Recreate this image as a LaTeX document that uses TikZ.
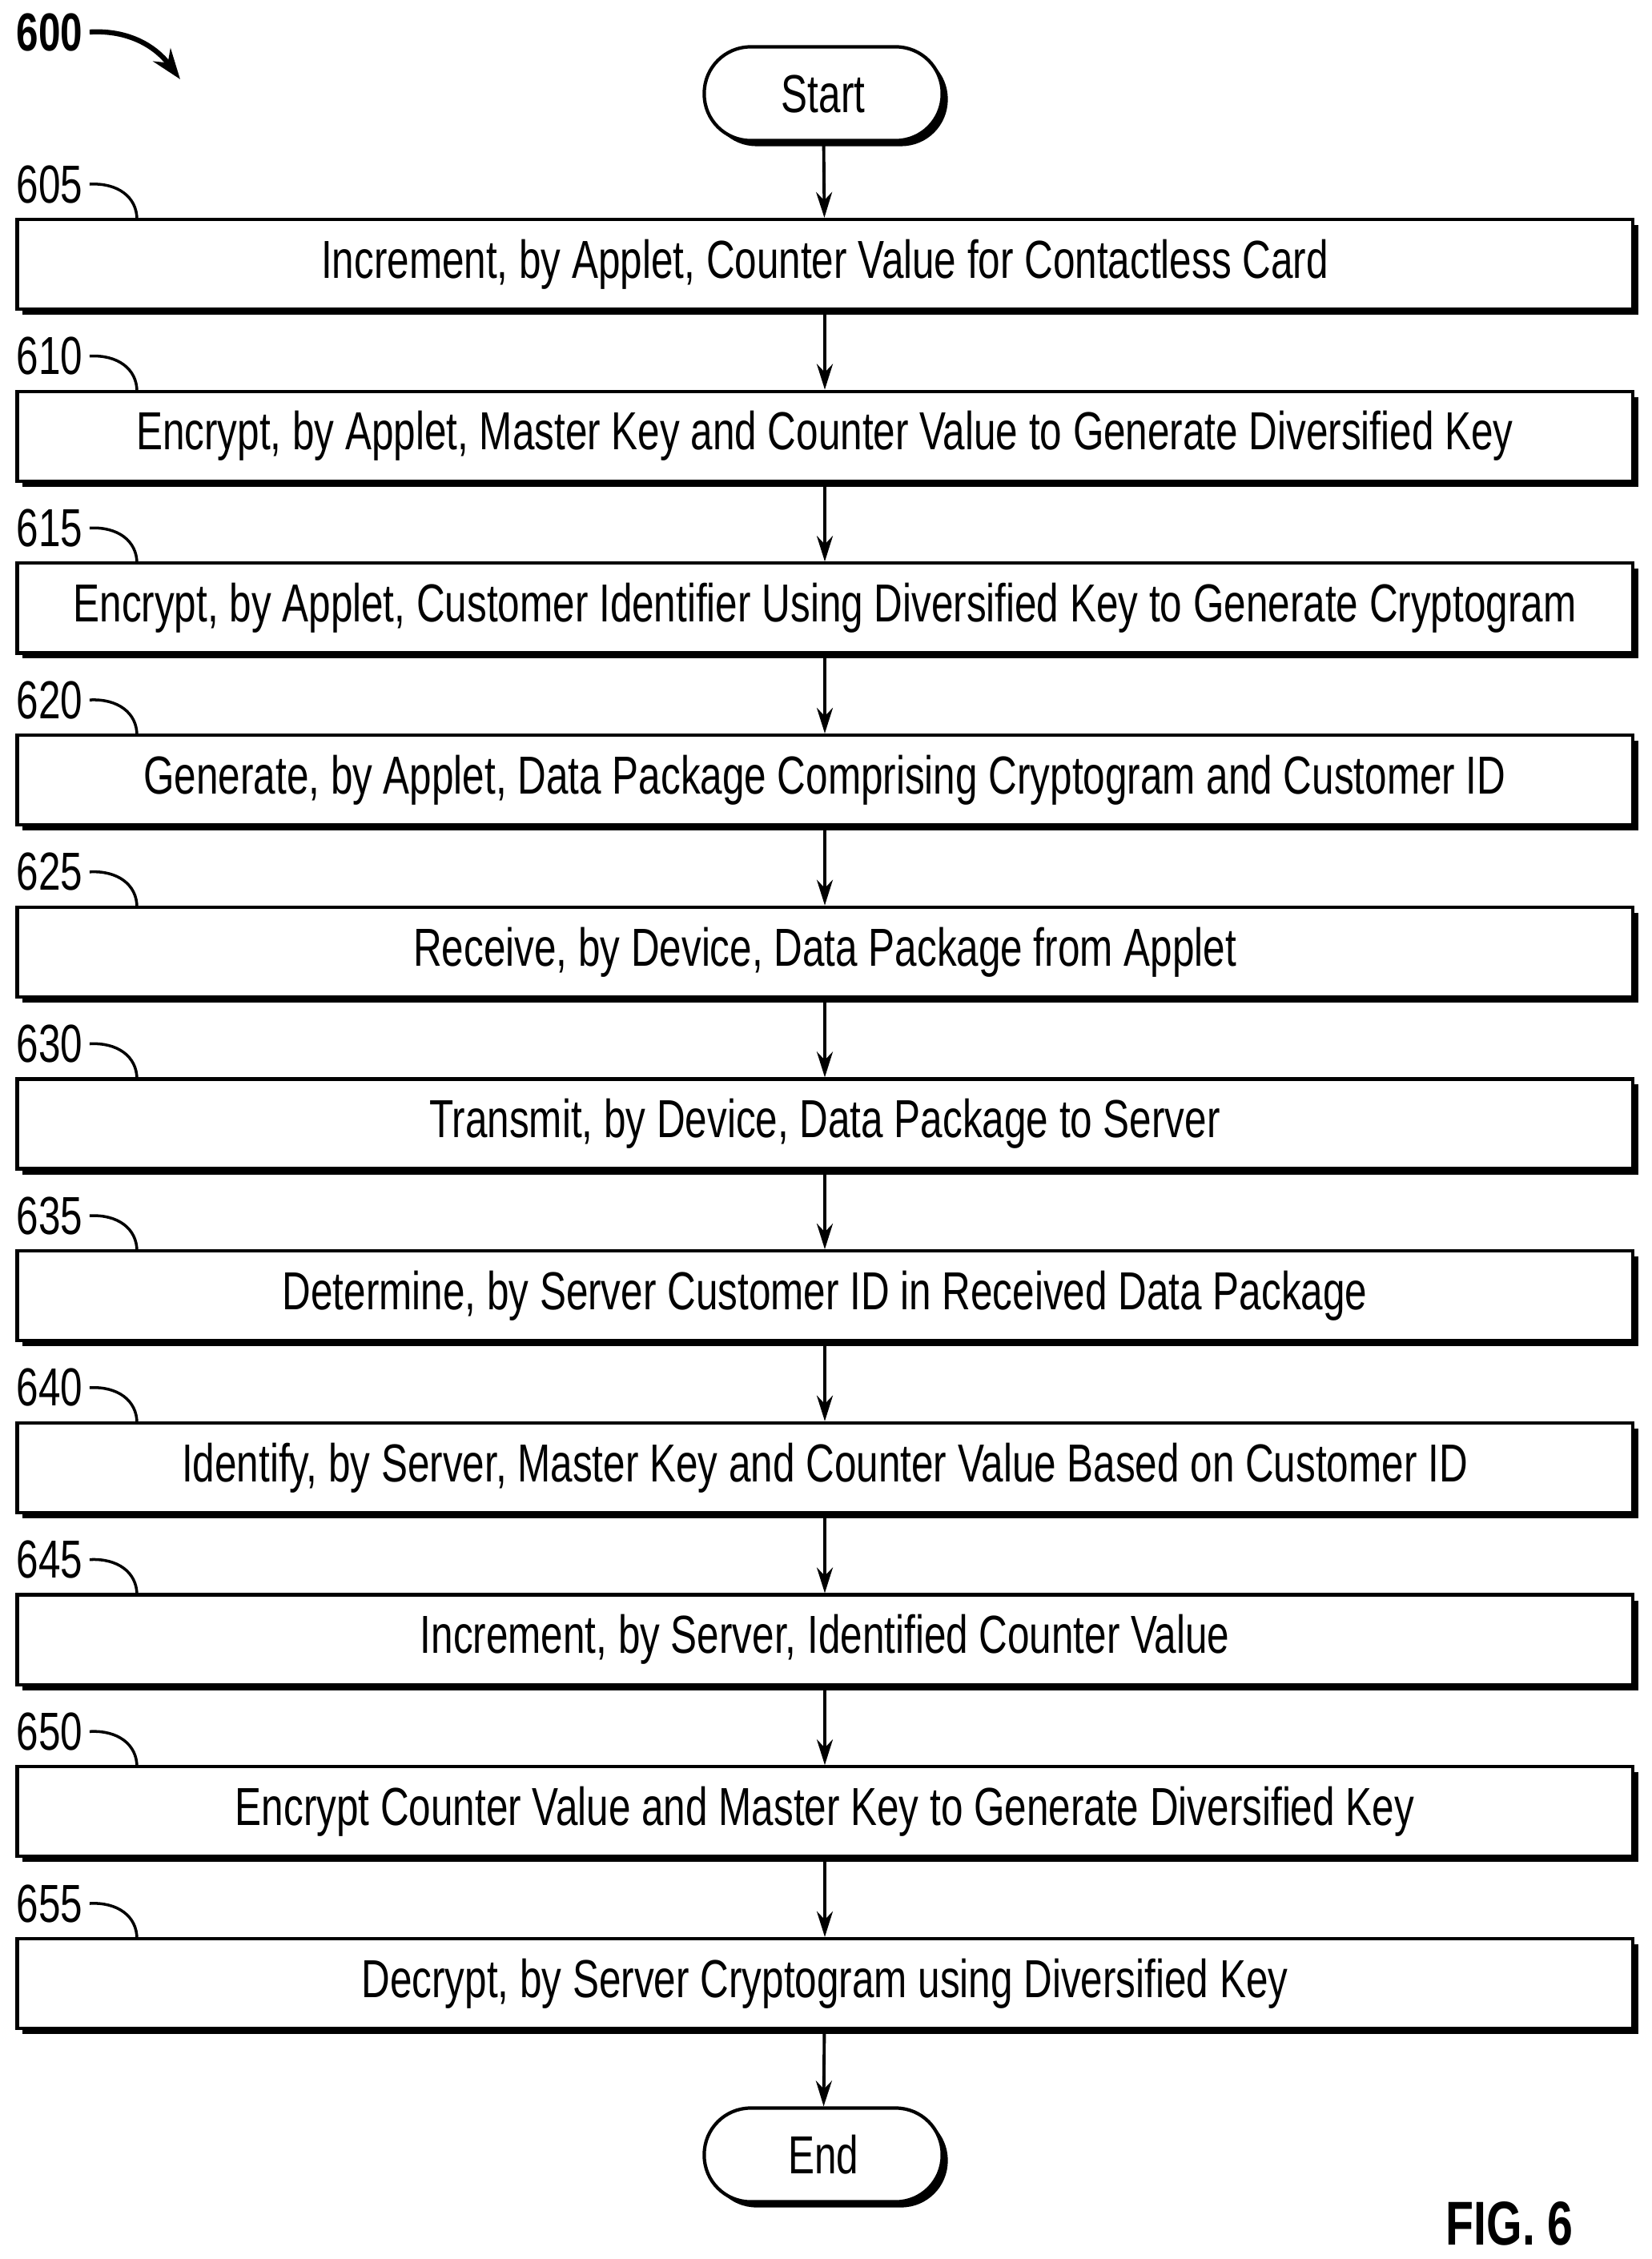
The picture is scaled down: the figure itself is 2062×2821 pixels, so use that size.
\documentclass[tikz,border=0pt]{standalone}
\usepackage{fontspec}
\setmainfont{Liberation Sans}[FakeStretch=0.74]
\usetikzlibrary{shadows,arrows.meta}

\tikzset{
  stepbox/.style={draw, line width=1.2pt, fill=white, minimum width=20.16cm, minimum height=1.12cm,
    inner sep=0pt, font=\fontsize{19}{22}\selectfont,
    drop shadow={shadow xshift=0.07cm, shadow yshift=-0.07cm, opacity=1, fill=black}},
  termbox/.style={stepbox, rounded corners=0.58cm, minimum width=2.97cm, minimum height=1.17cm},
  flow/.style={line width=1.1pt, -{Stealth[length=0.32cm, width=0.2cm]}},
  reflabel/.style={font=\fontsize{19}{22}\selectfont, anchor=west, inner sep=0pt}
}

\begin{document}
\begin{tikzpicture}[x=0.01cm, y=-0.01cm]
        \useasboundingbox (0,0) rectangle (2062,2821);

        % figure number
        \node[reflabel, font=\fontsize{19}{22}\selectfont\bfseries] (n600) at (20,40) {600};
        \draw[line width=1.8pt, -{Stealth[length=0.38cm, width=0.27cm]}] (n600.east) ++(8,0) .. controls +(50,-3) and +(-30,-40) .. (225,99);

        \node[termbox] (start) at (1028,117) {Start};

        \foreach \n/\t [count=\i from 0] in {
          605/{Increment, by Applet, Counter Value for Contactless Card},
          610/{Encrypt, by Applet, Master Key and Counter Value to Generate Diversified Key},
          615/{Encrypt, by Applet, Customer Identifier Using Diversified Key to Generate Cryptogram},
          620/{Generate, by Applet, Data Package Comprising Cryptogram and Customer ID},
          625/{Receive, by Device, Data Package from Applet},
          630/{Transmit, by Device, Data Package to Server},
          635/{Determine, by Server Customer ID in Received Data Package},
          640/{Identify, by Server, Master Key and Counter Value Based on Customer ID},
          645/{Increment, by Server, Identified Counter Value},
          650/{Encrypt Counter Value and Master Key to Generate Diversified Key},
          655/{Decrypt, by Server Cryptogram using Diversified Key}} {
          \node[stepbox] (s\n) at (1030,{330+\i*214.7}) {\t};
          \node[reflabel] (l\n) at (20,{230+\i*214.7}) {\n};
          \draw[line width=1pt] (l\n.east) ++(8,0) .. controls +(35,-2) and +(0,-28) .. (171,{274+\i*214.7});
        }

        \node[termbox] (end) at (1028,2691) {End};

        \draw[flow] (start) -- (s605);
        \draw[flow] (s605) -- (s610);
        \draw[flow] (s610) -- (s615);
        \draw[flow] (s615) -- (s620);
        \draw[flow] (s620) -- (s625);
        \draw[flow] (s625) -- (s630);
        \draw[flow] (s630) -- (s635);
        \draw[flow] (s635) -- (s640);
        \draw[flow] (s640) -- (s645);
        \draw[flow] (s645) -- (s650);
        \draw[flow] (s650) -- (s655);
        \draw[flow] (s655) -- (end);

        \node[reflabel, font=\fontsize{22}{24}\selectfont\bfseries] (fig) at (1805,2777) {FIG. 6};
\end{tikzpicture}
\end{document}
